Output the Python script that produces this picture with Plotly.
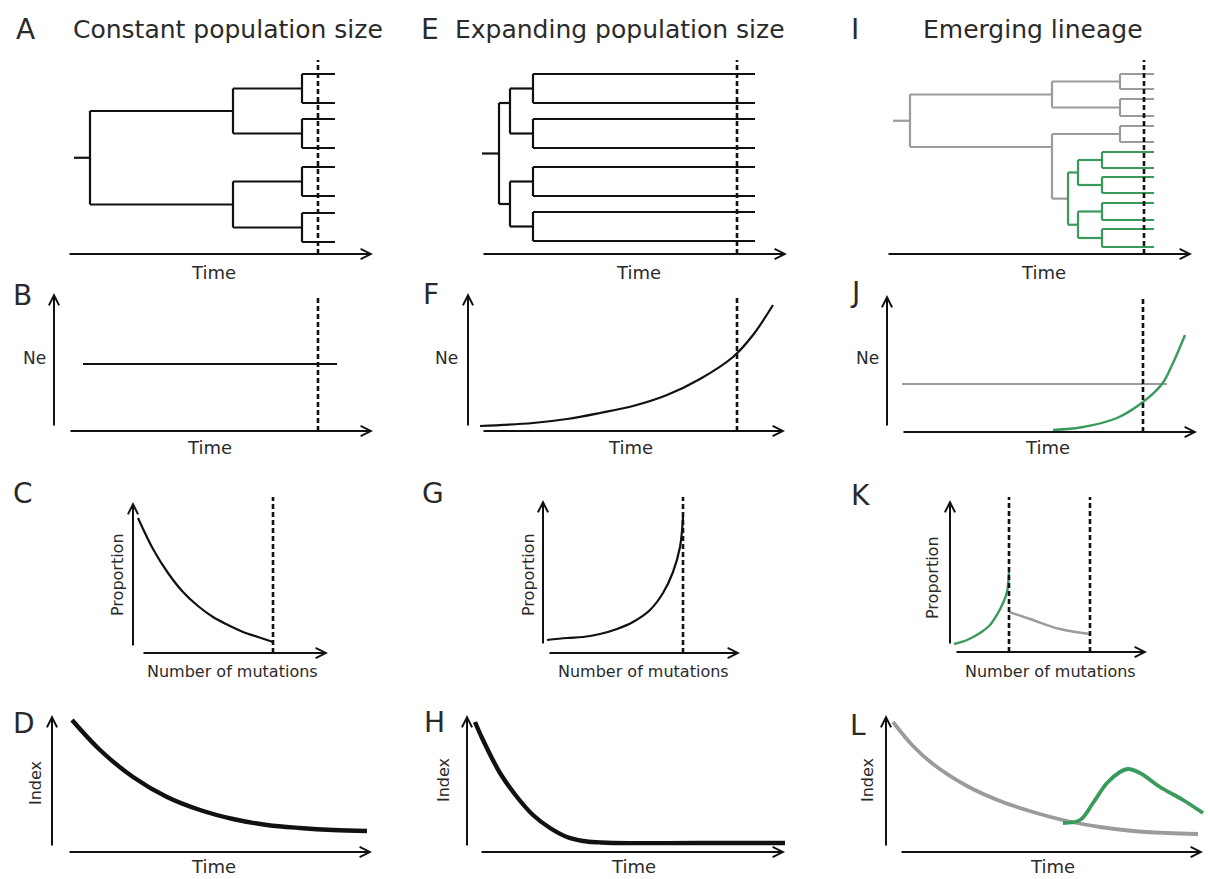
import plotly.graph_objects as go

FIG_W, FIG_H = 1208, 879
INK = "#111111"
GRAY = "#9b9b9b"
GREEN = "#3a9a5c"
TXT = "#2a2a2a"
FONT = "DejaVu Sans"

# ---------------- data ----------------
# Row 1: genealogies (x = time, y = tip height above the time axis)
leaf_y_A = [180, 151, 135, 106, 87, 58, 41, 12]
leaf_y_E = [180, 151, 135, 106, 87, 58, 42, 13]
leaf_y_I = [180, 165, 155, 138, 128, 112, 102, 86, 77, 61, 51, 34, 25, 7]
tip_time = {"A": 267, "E": 273, "I": 267}
origin_time = {"A": 6, "E": 0, "I": 6}
sample_time = {"A": 250, "E": 255, "I": 257, "B": 264, "F": 269, "J": 256, "C": 140, "G": 140}
K_sample_times = [59, 140]


def node(t, kids, y=None, color=None):
    return {"t": t, "kids": kids, "y": y, "color": color}


tree_A = node(22, [node(165, [node(234, [0, 1]), node(234, [2, 3])]),
                   node(165, [node(234, [4, 5]), node(234, [6, 7])])])
tree_E = node(17, [node(28, [node(51, [0, 1]), node(51, [2, 3])], y=151),
                   node(28, [node(51, [4, 5]), node(51, [6, 7])])])
tree_I = node(23, [node(165, [node(233, [0, 1]), node(233, [2, 3])]),
                   node(165, [node(233, [4, 5]),
                              node(181, [node(191, [node(215, [6, 7]), node(215, [8, 9])]),
                                         node(191, [node(215, [10, 11]), node(215, [12, 13])])],
                                   color=GREEN)], y=107)], color=GRAY)

# Row 2: effective population size through time
B_time = [29, 283]
B_ne = [67, 67]
F_time = [12, 65, 99, 132, 165, 199, 232, 265, 285, 305]
F_ne = [5, 8, 12, 18, 25, 36, 52, 74, 96, 126]
J_time_old = [15, 280]
J_ne_old = [48, 48]
J_time_new = [166, 196, 230, 256, 275, 286, 298]
J_ne_new = [2, 5, 14, 30, 48, 69, 97]

# Row 3: distribution of number of mutations
C_mut = [5, 20, 35, 50, 65, 80, 95, 110, 125, 140]
C_prop = [135, 104, 80, 61, 47, 36, 28, 21, 16, 11]
G_mut = [4, 24, 40, 57, 74, 90, 107, 120, 130, 137, 140]
G_prop = [13, 15, 16, 19, 24, 31, 43, 60, 81, 106, 136]
K_mut_new = [4, 17, 30, 40, 48, 53, 57, 59]
K_prop_new = [8, 12, 19, 27, 39, 49, 60, 80]
K_mut_old = [59, 80, 110, 140]
K_prop_old = [40, 33, 23, 18]

# Row 4: index through time
D_time = [20, 48, 81, 115, 148, 181, 215, 248, 281, 315]
D_index = [132, 102, 75, 55, 42, 33, 27, 24, 22, 21]
H_time = [8, 16, 33, 50, 66, 83, 100, 116, 133, 146, 230, 318]
H_index = [130, 112, 79, 55, 37, 24, 15, 11, 9.6, 9, 9, 9]
L_time_old = [7, 27, 47, 81, 114, 147, 181, 214, 247, 281, 312]
L_index_old = [130, 106, 88, 66, 51, 40, 31, 25, 21, 19, 18]
L_time_new = [177, 194, 207, 221, 234, 242, 254, 274, 297, 317]
L_index_new = [29, 32, 49, 69, 80, 83, 79, 65, 52, 39]

# ---------------- layout of panels (pixel boxes) ----------------
PAD = 8
panels = {
    "A": dict(left=68, bottom=254, W=310, H=200),
    "E": dict(left=482, bottom=254, W=310, H=200),
    "I": dict(left=887, bottom=254, W=312, H=200),
    "B": dict(left=54, bottom=431, W=325, H=142),
    "F": dict(left=468, bottom=431, W=322, H=142),
    "J": dict(left=887, bottom=432, W=315, H=142),
    "C": dict(left=133, bottom=653, W=200, H=160),
    "G": dict(left=543, bottom=653, W=200, H=160),
    "K": dict(left=950, bottom=652, W=200, H=160),
    "D": dict(left=52, bottom=852, W=325, H=142),
    "H": dict(left=467, bottom=852, W=325, H=142),
    "L": dict(left=886, bottom=852, W=322, H=142),
}
# axis arrows: (x tail, x head) along y=0 ; (y tail, y head) along x=0
axis_arrows = {
    "A": ((0, 305), None), "E": ((0, 305), None), "I": ((0, 305), None),
    "B": ((15, 319), (4, 138)), "F": ((14, 317), (4, 138)), "J": ((15, 310), (5, 137)),
    "C": ((9, 195), (6, 151)), "G": ((5, 197), (8, 153)), "K": ((5, 197), (7, 152)),
    "D": ((16, 320), (5, 137)), "H": ((13, 318), (5, 137)), "L": ((14, 317), (5, 137)),
}
dash_top = {"A": 194, "E": 194, "I": 194, "B": 133, "F": 133, "J": 136,
            "C": 156, "G": 156, "K": 155}

fig = go.Figure()
layout_axes = {}
ref = {}
for i, (name, p) in enumerate(panels.items()):
    suf = "" if i == 0 else str(i + 1)
    ref[name] = ("x" + suf, "y" + suf)
    layout_axes["xaxis" + suf] = dict(
        domain=[(p["left"] - PAD) / FIG_W, (p["left"] + p["W"]) / FIG_W],
        range=[-PAD, p["W"]], visible=False, fixedrange=True, anchor="y" + suf)
    layout_axes["yaxis" + suf] = dict(
        domain=[1 - (p["bottom"] + PAD) / FIG_H, 1 - (p["bottom"] - p["H"]) / FIG_H],
        range=[-PAD, p["H"]], visible=False, fixedrange=True, anchor="x" + suf)


def add_line(panel, x, y, color=INK, width=2, dash=None, shape="spline"):
    xr, yr = ref[panel]
    fig.add_trace(go.Scatter(x=x, y=y, mode="lines", xaxis=xr, yaxis=yr,
                             line=dict(color=color, width=width, dash=dash, shape=shape,
                                       smoothing=1.0),
                             hoverinfo="skip", showlegend=False))


def draw_tree(panel, tree, leaf_y, tip, origin, base_color):
    segs = {}

    def rec(nd, color):
        col = nd["color"] or color
        ys = []
        for k in nd["kids"]:
            if isinstance(k, int):
                cy, ct = leaf_y[k], tip
            else:
                cy, ct = rec(k, col), k["t"]
            segs.setdefault(col, []).append(((nd["t"], ct), (cy, cy)))
            ys.append(cy)
        segs.setdefault(col, []).append(((nd["t"], nd["t"]), (min(ys), max(ys))))
        return nd["y"] if nd["y"] is not None else (min(ys) + max(ys)) / 2

    root_y = rec(tree, base_color)
    root_col = tree["color"] or base_color
    segs.setdefault(root_col, []).append(((origin, tree["t"]), (root_y, root_y)))
    for col, ss in segs.items():
        xs, ys = [], []
        for (x0, x1), (y0, y1) in ss:
            xs += [x0, x1, None]
            ys += [y0, y1, None]
        add_line(panel, xs, ys, color=col, width=2.2, shape="linear")


draw_tree("A", tree_A, leaf_y_A, tip_time["A"], origin_time["A"], INK)
draw_tree("E", tree_E, leaf_y_E, tip_time["E"], origin_time["E"], INK)
draw_tree("I", tree_I, leaf_y_I, tip_time["I"], origin_time["I"], INK)

add_line("B", B_time, B_ne, width=2.2, shape="linear")
add_line("F", F_time, F_ne, width=2.2)
add_line("J", J_time_old, J_ne_old, color=GRAY, width=2, shape="linear")
add_line("J", J_time_new, J_ne_new, color=GREEN, width=2.4)

add_line("C", C_mut, C_prop, width=2.2)
add_line("G", G_mut, G_prop, width=2.2)
add_line("K", K_mut_new, K_prop_new, color=GREEN, width=2.4)
add_line("K", K_mut_old, K_prop_old, color=GRAY, width=2.4)

add_line("D", D_time, D_index, width=4.4)
add_line("H", H_time, H_index, width=4.4)
add_line("L", L_time_old, L_index_old, color=GRAY, width=3.8)
add_line("L", L_time_new, L_index_new, color=GREEN, width=3.8)

# dashed sampling lines
for name, t in sample_time.items():
    add_line(name, [t, t], [0, dash_top[name]], width=2.6, dash="5px,3px", shape="linear")
for t in K_sample_times:
    add_line("K", [t, t], [0, dash_top["K"]], width=2.6, dash="5px,3px", shape="linear")

annotations = []
# axis arrows
for name, (xa, ya) in axis_arrows.items():
    xr, yr = ref[name]
    annotations.append(dict(xref=xr, yref=yr, axref=xr, ayref=yr, x=xa[1], y=0, ax=xa[0], ay=0,
                            text="", showarrow=True, arrowhead=5, arrowsize=1.0,
                            arrowwidth=2, arrowcolor=INK, standoff=0))
    if ya is not None:
        annotations.append(dict(xref=xr, yref=yr, axref=xr, ayref=yr, x=0, y=ya[1], ax=0, ay=ya[0],
                                text="", showarrow=True, arrowhead=5, arrowsize=1.0,
                                arrowwidth=2, arrowcolor=INK, standoff=0))

# texts: (text, px, py, size, angle)
texts = [
    ("A", 25, 29, 28, 0), ("Constant population size", 228, 30, 25, 0),
    ("E", 430, 30, 28, 0), ("Expanding population size", 620, 30, 25, 0),
    ("I", 855, 30, 28, 0), ("Emerging lineage", 1033, 30, 25, 0),
    ("B", 22, 295, 28, 0), ("F", 431, 294, 28, 0), ("J", 855, 293, 28, 0),
    ("C", 23, 493, 28, 0), ("G", 433, 493, 28, 0), ("K", 860, 495, 28, 0),
    ("D", 24, 723, 28, 0), ("H", 434, 722, 28, 0), ("L", 858, 725, 28, 0),
    ("Time", 213, 272, 18, 0), ("Time", 638, 272, 18, 0), ("Time", 1043, 272, 18, 0),
    ("Time", 209, 448, 18, 0), ("Time", 630, 448, 18, 0), ("Time", 1047, 448, 18, 0),
    ("Ne", 34, 358, 17, 0), ("Ne", 447, 358, 17, 0), ("Ne", 867, 358, 17, 0),
    ("Proportion", 117, 575, 16, -90), ("Proportion", 528, 575, 16, -90),
    ("Proportion", 932, 578, 16, -90),
    ("Number of mutations", 232, 671, 16, 0), ("Number of mutations", 643, 671, 16, 0),
    ("Number of mutations", 1050, 671, 16, 0),
    ("Index", 35, 783, 16, -90), ("Index", 443, 780, 16, -90), ("Index", 867, 780, 16, -90),
    ("Time", 213, 866, 18, 0), ("Time", 633, 866, 18, 0), ("Time", 1052, 866, 18, 0),
]
for t, px, py, size, ang in texts:
    annotations.append(dict(xref="paper", yref="paper", x=px / FIG_W, y=1 - py / FIG_H,
                            text=t, showarrow=False, xanchor="center", yanchor="middle",
                            textangle=ang,
                            font=dict(family=FONT, size=size, color=TXT)))

fig.update_layout(
    width=FIG_W, height=FIG_H, margin=dict(l=0, r=0, t=0, b=0, pad=0),
    paper_bgcolor="white", plot_bgcolor="rgba(0,0,0,0)",
    showlegend=False, annotations=annotations, **layout_axes)

fig.write_html("out.html", config={"displayModeBar": False},
               post_script="document.body.style.margin='0px';document.body.style.overflow='hidden';")
